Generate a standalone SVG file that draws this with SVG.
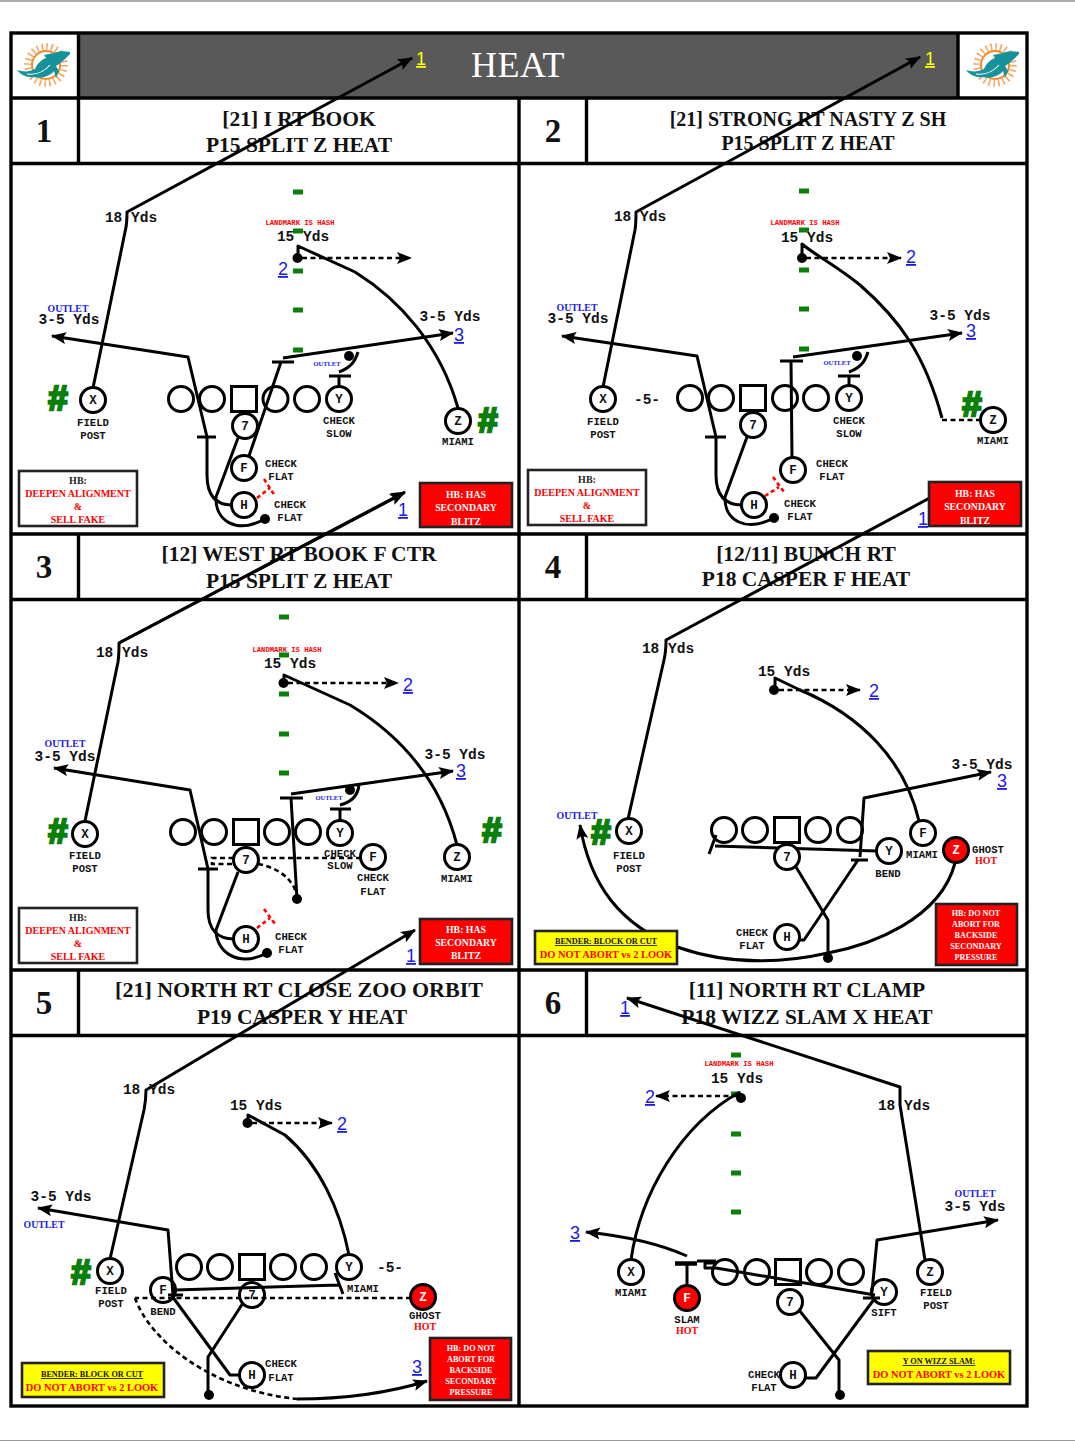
<svg xmlns="http://www.w3.org/2000/svg" width="1075" height="1441" viewBox="0 0 1075 1441">
<style>
text{text-anchor:middle}
.title{font:700 21.5px "Liberation Serif",serif;fill:#111}
.ts{font:700 20px "Liberation Serif",serif;fill:#111}
.tl{font:700 22px "Liberation Serif",serif;fill:#111}
.num{font:700 33px "Liberation Serif",serif;fill:#111}
.yds{font:700 14.5px "Liberation Mono",monospace;fill:#111}
.lab{font:700 10.6px "Liberation Mono",monospace;fill:#111}
.ltr{font:700 12.5px "Liberation Mono",monospace;fill:#111}
.ltw{font:700 12.5px "Liberation Mono",monospace;fill:#fff}
.lm{font:700 7.2px "Liberation Mono",monospace;fill:#f00}
.out{font:700 9.8px "Liberation Serif",serif;fill:#1a1ae6}
.outs{font:700 6.5px "Liberation Serif",serif;fill:#1a1ae6}
.hot{font:700 10px "Liberation Serif",serif;fill:#f00}
.bk{font:700 10px "Liberation Serif",serif;fill:#222}
.rd{font:700 10px "Liberation Serif",serif;fill:#f00}
.ry{font:700 10.4px "Liberation Serif",serif;fill:#f00}
.wh{font:700 9.8px "Liberation Serif",serif;fill:#fff}
.ws{font:700 8.2px "Liberation Serif",serif;fill:#fff}
.ul{font:700 8.2px "Liberation Serif",serif;fill:#111;text-decoration:underline}
.lnk{font:400 18px "Liberation Sans",sans-serif;fill:#1a1ae6;text-decoration:underline}
.lnky{font:400 18px "Liberation Sans",sans-serif;fill:#ff0;text-decoration:underline}
.hash{font:700 35px "Liberation Sans",sans-serif;fill:#0a800a;stroke:#0a800a;stroke-width:2.4}
.five{font:700 14.5px "Liberation Mono",monospace;fill:#111}
.pl{fill:#fff;stroke:#000;stroke-width:3}
.ol{fill:none;stroke:#000;stroke-width:3}
.hot-pl{fill:#f00;stroke:#000;stroke-width:3}
.open{fill:none;stroke:#000;stroke-width:3}
.r{fill:none;stroke:#000;stroke-width:3;stroke-linejoin:round}
.a{marker-end:url(#arr)}
.d{fill:none;stroke:#000;stroke-width:2.6;stroke-dasharray:5 3.5}
.rx{fill:none;stroke:#f00;stroke-width:2.6;stroke-dasharray:4 3}
.dot{fill:#000}
.mk{fill:#0a800a}
.grid{fill:none;stroke:#000;stroke-width:3.4}
.bw{fill:#fff;stroke:#222;stroke-width:2.6}
.br{fill:#f00;stroke:#222;stroke-width:2.6}
.by{fill:#ff0;stroke:#222;stroke-width:2.6}
</style>
<defs>
<marker id="arr" viewBox="0 0 15 12" refX="14" refY="6" markerWidth="15" markerHeight="12" markerUnits="userSpaceOnUse" orient="auto"><path d="M0 0L15 6L0 12L3 6Z" fill="#000"/></marker>
<g id="logo">
<circle cx="46" cy="65" r="18" fill="none" stroke="#f6a45c" stroke-width="7.500" stroke-dasharray="1.500 3.200"/>
<circle cx="46" cy="65" r="14" fill="#fff" stroke="#f58a2c" stroke-width="2"/>
<path d="M70 52C64 51 58 51 54 53L44 55L46 58C41 60 37 64 35 69C29 72 23 72 17 70C20 74 26 78 33 77C42 79 50 76 54 71L56 78L59 71L56 66C61 63 66 58 70 54Z" fill="#16929a"/>
<path d="M27 74C36 75 44 72 50 65" fill="none" stroke="#fff" stroke-width="1.100"/>
</g>
</defs>
<rect width="1075" height="1441" fill="#fff"/>
<path d="M0 1H1075" fill="none" stroke="#aeaeae" stroke-width="2"/>
<path d="M0 1440.500H1075" fill="none" stroke="#9a9a9a" stroke-width="1"/>

<g id="frame">
<rect x="79" y="33" width="879" height="65" fill="#595959"/>
<rect class="grid" x="11" y="33" width="1016" height="1373"/>
<path class="grid" d="M11 98H1027M11 163.500H1027M11 534H1027M11 599.500H1027M11 970H1027M11 1035.500H1027M519 98V1406M78.500 33V98M958 33V98M78.500 98V163.500M586.500 98V163.500M78.500 534V599.500M586.500 534V599.500M78.500 970V1035.500M586.500 970V1035.500"/>
<use href="#logo"/>
<use href="#logo" x="949"/>
<text x="518" y="77" style="font:400 36px 'Liberation Serif',serif;fill:#fff;letter-spacing:.5px">HEAT</text>
<text class="num" x="44" y="142">1</text>
<text class="title" x="299" y="126">[21] I RT BOOK</text>
<text class="title" x="299" y="152">P15 SPLIT Z HEAT</text>
<text class="num" x="553" y="142">2</text>
<text class="ts" x="808" y="126">[21] STRONG RT NASTY Z SH</text>
<text class="ts" x="808" y="150">P15 SPLIT Z HEAT</text>
<text class="num" x="44" y="578">3</text>
<text class="title" x="299" y="561">[12] WEST RT BOOK F CTR</text>
<text class="title" x="299" y="588">P15 SPLIT Z HEAT</text>
<text class="num" x="553" y="578">4</text>
<text class="title" x="806" y="561">[12/11] BUNCH RT</text>
<text class="title" x="806" y="586">P18 CASPER F HEAT</text>
<text class="num" x="44" y="1014">5</text>
<text class="tl" x="299" y="997">[21] NORTH RT CLOSE ZOO ORBIT</text>
<text class="title" x="302" y="1024">P19 CASPER Y HEAT</text>
<text class="num" x="553" y="1014">6</text>
<text class="title" x="807" y="997">[11] NORTH RT CLAMP</text>
<text class="title" x="807" y="1024">P18 WIZZ SLAM X HEAT</text>
</g>

<g id="nodes-back">
<g id="p1-ol"><circle class="ol" cx="181" cy="399" r="12.500"/><circle class="ol" cx="212" cy="399" r="12.500"/><rect class="ol" x="231.500" y="386.500" width="25" height="25"/><circle class="ol" cx="275.500" cy="399" r="12.500"/><circle class="ol" cx="307" cy="399" r="12.500"/></g>
<g id="p2-ol"><circle class="ol" cx="690" cy="398" r="12.500"/><circle class="ol" cx="721" cy="398" r="12.500"/><rect class="ol" x="740.500" y="385.500" width="25" height="25"/><circle class="ol" cx="785" cy="398" r="12.500"/><circle class="ol" cx="816" cy="398" r="12.500"/></g>
<g id="p3-ol"><circle class="ol" cx="183" cy="832" r="12.500"/><circle class="ol" cx="214" cy="832" r="12.500"/><rect class="ol" x="233.500" y="819.500" width="25" height="25"/><circle class="ol" cx="277" cy="832" r="12.500"/><circle class="ol" cx="308" cy="832" r="12.500"/></g>
<g id="p4-ol"><circle class="ol" cx="724" cy="830" r="12.500"/><circle class="ol" cx="755" cy="830" r="12.500"/><rect class="ol" x="774.500" y="817.500" width="25" height="25"/><circle class="ol" cx="818" cy="830" r="12.500"/><circle class="ol" cx="850" cy="830" r="12.500"/></g>
<g id="p5-ol"><circle class="ol" cx="189" cy="1267" r="12.500"/><circle class="ol" cx="220" cy="1267" r="12.500"/><rect class="ol" x="239.500" y="1254.500" width="25" height="25"/><circle class="ol" cx="283" cy="1267" r="12.500"/><circle class="ol" cx="314" cy="1267" r="12.500"/></g>
<g id="p6-ol"><circle class="ol" cx="725" cy="1272" r="12.500"/><circle class="ol" cx="757" cy="1272" r="12.500"/><rect class="ol" x="775.500" y="1259.500" width="25" height="25"/><circle class="ol" cx="819" cy="1272" r="12.500"/><circle class="ol" cx="851" cy="1272" r="12.500"/></g>
</g>

<g id="hash-marks">
<path class="mk" d="M293 189.500h10v5h-10zM293 228.500h10v5h-10zM293 268.500h10v5h-10zM293 307.500h10v5h-10zM293 347.500h10v5h-10z"/>
<path class="mk" d="M799 188.500h10v5h-10zM799 227.500h10v5h-10zM799 267.500h10v5h-10zM799 306.500h10v5h-10zM799 346.500h10v5h-10z"/>
<path class="mk" d="M279 614.500h10v5h-10zM279 652.500h10v5h-10zM279 691.500h10v5h-10zM279 731.500h10v5h-10zM279 770.500h10v5h-10z"/>
<path class="mk" d="M731 1052.500h10v5h-10zM731 1091.500h10v5h-10zM731 1131.500h10v5h-10zM731 1170.500h10v5h-10zM731 1209.500h10v5h-10z"/>
</g>

<g id="connectors">
<!-- panel 1 -->
<path class="r a" d="M93 388L125 232Q127 225 127 212L412 58"/>
<path class="r" d="M458 408C440 345 400 300 355 272L298 246V258"/>
<path class="d a" d="M302 258H411"/><circle class="dot" cx="297.500" cy="258" r="5"/>
<path class="r a" d="M232 505C215 505 207 495 207 475V437L188 357L52 336"/>
<path class="r" d="M197 437H216"/>
<path class="r" d="M238 438L216 497C215 520 235 535 265 519"/><circle class="dot" cx="265" cy="519" r="5"/>
<path class="r" d="M249 456L281 362M272 362H294"/>
<path class="r a" d="M283 358L453 333"/>
<path class="r" d="M339 387V376M329 376H351M339 372C350 368 355 362 358 352"/><circle class="dot" cx="349" cy="356" r="5"/>
<path class="rx" d="M257 498L270 488M264 479L275 496"/>
<path class="r a" d="M119 643L404 493"/>
<!-- panel 2 -->
<path class="r a" d="M603 387L635 230Q636 224 636 212L920 57"/>
<path class="d" d="M981 420H941"/>
<path class="r" d="M942 418C925 355 900 320 860 285C835 265 815 255 802 244V258"/>
<path class="d a" d="M806 258H901"/><circle class="dot" cx="802" cy="258" r="5"/>
<path class="r a" d="M742 505C725 505 716 495 716 475V437L697 356L562 336"/>
<path class="r" d="M705 437H726"/>
<path class="r" d="M747 437L725 497C724 520 745 533 774 518"/><circle class="dot" cx="774" cy="518" r="5"/>
<path class="r" d="M792 458L791 361M780 361H803"/>
<path class="r a" d="M793 357L962 333"/>
<path class="r" d="M849 387V376M838 376H860M849 372C860 368 865 362 868 352"/><circle class="dot" cx="857" cy="356" r="5"/>
<path class="rx" d="M765 496L779 487M773 477L784 492"/>
<path class="r a" d="M628 819L664 660Q666 652 666 640L950 487"/>
<!-- panel 3 -->
<path class="r a" d="M85 821L118 662Q119 655 119 643L405 492"/>
<path class="r" d="M457 845C440 780 400 735 350 705L284 675V683"/>
<path class="d a" d="M288 683H398"/><circle class="dot" cx="283.500" cy="683" r="5"/>
<path class="r a" d="M234 939C218 939 208 930 208 910V869L190 790L54 768"/>
<path class="r" d="M198 869H218"/>
<path class="r" d="M238 872L216 930C216 952 238 968 267 953"/><circle class="dot" cx="267" cy="953" r="5"/>
<path class="d" d="M361 858H212V864H234"/>
<path class="d" d="M258 864C280 868 292 880 296 892"/>
<path class="r" d="M297 899L291 798M280 798H303"/><circle class="dot" cx="297" cy="899" r="5"/>
<path class="r a" d="M291 794L453 771"/>
<path class="r" d="M340 821V809M330 809H351M340 805C352 802 358 795 359 785"/><circle class="dot" cx="350" cy="790" r="5"/>
<path class="rx" d="M257 928L270 918M264 909L275 924"/>
<!-- panel 4 -->
<path class="r" d="M919 821C905 760 860 715 800 690L775 678V690"/>
<path class="d a" d="M779 690H860"/><circle class="dot" cx="774" cy="690" r="5"/>
<path class="r a" d="M955 863C940 920 870 945 828 953C770 966 720 962 677 947C620 925 590 885 580 825"/>
<path class="r" d="M799 940H804L858 860M851 860H868"/>
<path class="r a" d="M860 857L864 798L991 772"/>
<path class="r" d="M796 867L828 920V958"/><circle class="dot" cx="828" cy="958" r="5"/>
<path class="r" d="M877 851L715 846M709 854L716 835"/>
<!-- panel 5 -->
<path class="r a" d="M110 1259L144 1110Q146 1100 146 1090L415 930"/>
<path class="r" d="M349 1255C340 1210 320 1165 285 1135L248 1115V1123"/>
<path class="d a" d="M252 1123H332"/><circle class="dot" cx="247.500" cy="1123" r="5"/>
<path class="r a" d="M173 1295L168 1230L38 1208"/>
<path class="r" d="M240 1375H230L172 1296M168 1295H183"/>
<path class="r" d="M339 1285L175 1290M335 1273L343 1294"/>
<path class="r" d="M243 1303L208 1357V1395"/><circle class="dot" cx="209" cy="1395" r="5"/>
<path class="d" d="M411 1298H135"/>
<path class="d" d="M135 1298C150 1340 210 1390 297 1399"/>
<path class="r a" d="M297 1399C340 1399 385 1394 427 1381"/>
<!-- panel 6 -->
<path class="r" d="M631 1260C640 1195 680 1125 740 1092"/>
<path class="d a" d="M737 1096H656"/><circle class="dot" cx="741" cy="1098" r="5"/>
<path class="r a" d="M925 1260L900 1105V1087L627 998"/>
<path class="r a" d="M872 1292L877 1240L998 1220"/>
<path class="r" d="M805 1378H816L875 1298M863 1298H880"/>
<path class="r" d="M875 1295L716 1268H705V1263H715"/>
<path class="r" d="M687 1286V1263"/><path d="M675 1263.500H697" fill="none" stroke="#000" stroke-width="4.500"/><path class="r" d="M697 1261H716"/>
<path class="r a" d="M687 1256C660 1244 625 1236 586 1232"/>
<path class="r" d="M799 1310L839 1360V1395"/><circle class="dot" cx="840" cy="1395" r="5"/>
</g>

<g id="p1-X"><circle class="pl" cx="93" cy="400" r="12.500"/><text class="ltr" x="93" y="404">X</text></g>
<g id="p1-Y"><circle class="pl" cx="339" cy="399" r="12.500"/><text class="ltr" x="339" y="403">Y</text></g>
<g id="p1-7"><circle class="pl" cx="245" cy="426" r="12.500"/><text class="ltr" x="245" y="430">7</text></g>
<g id="p1-F"><circle class="pl" cx="244" cy="468" r="12.500"/><text class="ltr" x="244" y="472">F</text></g>
<g id="p1-H"><circle class="pl" cx="244" cy="505" r="12.500"/><text class="ltr" x="244" y="509">H</text></g>
<g id="p1-Z"><circle class="pl" cx="458" cy="421" r="12.500"/><text class="ltr" x="458" y="425">Z</text></g>

<g id="p2-X"><circle class="pl" cx="603" cy="399" r="12.500"/><text class="ltr" x="603" y="403">X</text></g>
<g id="p2-Y"><circle class="pl" cx="849" cy="398" r="12.500"/><text class="ltr" x="849" y="402">Y</text></g>
<g id="p2-7"><circle class="pl" cx="753" cy="425" r="12.500"/><text class="ltr" x="753" y="429">7</text></g>
<g id="p2-F"><circle class="pl" cx="793" cy="470" r="12.500"/><text class="ltr" x="793" y="474">F</text></g>
<g id="p2-H"><circle class="pl" cx="754" cy="505" r="12.500"/><text class="ltr" x="754" y="509">H</text></g>
<g id="p2-Z"><circle class="pl" cx="993" cy="420" r="12.500"/><text class="ltr" x="993" y="424">Z</text></g>

<g id="p3-X"><circle class="pl" cx="85" cy="834" r="12.500"/><text class="ltr" x="85" y="838">X</text></g>
<g id="p3-Y"><circle class="pl" cx="340" cy="833" r="12.500"/><text class="ltr" x="340" y="837">Y</text></g>
<g id="p3-7"><circle class="pl" cx="246" cy="860" r="12.500"/><text class="ltr" x="246" y="864">7</text></g>
<g id="p3-F"><circle class="pl" cx="373" cy="857" r="12.500"/><text class="ltr" x="373" y="861">F</text></g>
<g id="p3-H"><circle class="pl" cx="246" cy="939" r="12.500"/><text class="ltr" x="246" y="943">H</text></g>
<g id="p3-Z"><circle class="pl" cx="457" cy="857" r="12.500"/><text class="ltr" x="457" y="861">Z</text></g>

<g id="p4-X"><circle class="pl" cx="629" cy="831" r="12.500"/><text class="ltr" x="629" y="835">X</text></g>
<g id="p4-7"><circle class="pl" cx="787" cy="857" r="12.500"/><text class="ltr" x="787" y="861">7</text></g>
<g id="p4-Y"><circle class="pl" cx="889" cy="851" r="12.500"/><text class="ltr" x="889" y="855">Y</text></g>
<g id="p4-F"><circle class="pl" cx="923" cy="833" r="12.500"/><text class="ltr" x="923" y="837">F</text></g>
<g id="p4-Z"><circle class="hot-pl" cx="956" cy="850" r="12.500"/><text class="ltw" x="956" y="854">Z</text></g>
<g id="p4-H"><circle class="pl" cx="787" cy="937" r="12.500"/><text class="ltr" x="787" y="941">H</text></g>

<g id="p5-X"><circle class="pl" cx="110" cy="1271" r="12.500"/><text class="ltr" x="110" y="1275">X</text></g>
<g id="p5-Y"><circle class="pl" cx="349" cy="1267" r="12.500"/><text class="ltr" x="349" y="1271">Y</text></g>
<g id="p5-7"><circle class="open" cx="252" cy="1295" r="12.500"/><text class="ltr" x="252" y="1299">7</text></g>
<g id="p5-F"><circle class="open" cx="163" cy="1290" r="12.500"/><text class="ltr" x="163" y="1294">F</text></g>
<g id="p5-Z"><circle class="hot-pl" cx="423" cy="1297" r="12.500"/><text class="ltw" x="423" y="1301">Z</text></g>
<g id="p5-H"><circle class="pl" cx="252" cy="1375" r="12.500"/><text class="ltr" x="252" y="1379">H</text></g>

<g id="p6-X"><circle class="pl" cx="631" cy="1272" r="12.500"/><text class="ltr" x="631" y="1276">X</text></g>
<g id="p6-F"><circle class="hot-pl" cx="687" cy="1298" r="12.500"/><text class="ltw" x="687" y="1302">F</text></g>
<g id="p6-Z"><circle class="pl" cx="930" cy="1272" r="12.500"/><text class="ltr" x="930" y="1276">Z</text></g>
<g id="p6-Y"><circle class="open" cx="884" cy="1292" r="12.500"/><text class="ltr" x="884" y="1296">Y</text></g>
<g id="p6-7"><circle class="pl" cx="790" cy="1302" r="12.500"/><text class="ltr" x="790" y="1306">7</text></g>
<g id="p6-H"><circle class="pl" cx="793" cy="1375" r="12.500"/><text class="ltr" x="793" y="1379">H</text></g>

<g id="labels">
<!-- panel 1 -->
<text class="lnky" x="421" y="65">1</text>
<text class="yds" x="131" y="222">18 Yds</text>
<text class="lm" x="300" y="225">LANDMARK IS HASH</text>
<text class="yds" x="303" y="241">15 Yds</text>
<text class="lnk" x="283" y="275">2</text>
<text class="out" x="68" y="312">OUTLET</text>
<text class="yds" x="69" y="324">3-5 Yds</text>
<text class="yds" x="450" y="321">3-5 Yds</text>
<text class="lnk" x="459" y="341">3</text>
<text class="outs" x="327" y="366">OUTLET</text>
<text class="hash" x="58" y="410">#</text><text class="hash" x="488" y="432">#</text>
<text class="lab" x="93" y="426">FIELD</text><text class="lab" x="93" y="439">POST</text>
<text class="lab" x="339" y="424">CHECK</text><text class="lab" x="339" y="437">SLOW</text>
<text class="lab" x="458" y="445">MIAMI</text>
<text class="lab" x="281" y="467">CHECK</text><text class="lab" x="281" y="480">FLAT</text>
<text class="lab" x="290" y="508">CHECK</text><text class="lab" x="290" y="521">FLAT</text>
<text class="lnk" x="403" y="516">1</text>
<!-- panel 2 -->
<text class="lnky" x="930" y="65">1</text>
<text class="yds" x="640" y="221">18 Yds</text>
<text class="lm" x="805" y="225">LANDMARK IS HASH</text>
<text class="yds" x="807" y="242">15 Yds</text>
<text class="lnk" x="911" y="263">2</text>
<text class="out" x="577" y="311">OUTLET</text>
<text class="yds" x="578" y="323">3-5 Yds</text>
<text class="yds" x="960" y="320">3-5 Yds</text>
<text class="lnk" x="971" y="337">3</text>
<text class="outs" x="837" y="365">OUTLET</text>
<text class="five" x="647" y="404">-5-</text>
<text class="hash" x="972" y="416">#</text>
<text class="lab" x="603" y="425">FIELD</text><text class="lab" x="603" y="438">POST</text>
<text class="lab" x="849" y="424">CHECK</text><text class="lab" x="849" y="437">SLOW</text>
<text class="lab" x="993" y="444">MIAMI</text>
<text class="lab" x="832" y="467">CHECK</text><text class="lab" x="832" y="480">FLAT</text>
<text class="lab" x="800" y="507">CHECK</text><text class="lab" x="800" y="520">FLAT</text>
<text class="lnk" x="923" y="525">1</text>
<!-- panel 3 -->
<text class="yds" x="122" y="657">18 Yds</text>
<text class="lm" x="287" y="652">LANDMARK IS HASH</text>
<text class="yds" x="290" y="668">15 Yds</text>
<text class="lnk" x="408" y="691">2</text>
<text class="out" x="65" y="747">OUTLET</text>
<text class="yds" x="65" y="761">3-5 Yds</text>
<text class="yds" x="455" y="759">3-5 Yds</text>
<text class="lnk" x="461" y="777">3</text>
<text class="outs" x="329" y="800">OUTLET</text>
<text class="hash" x="58" y="843">#</text><text class="hash" x="492" y="842">#</text>
<text class="lab" x="85" y="859">FIELD</text><text class="lab" x="85" y="872">POST</text>
<text class="lab" x="340" y="857">CHECK</text><text class="lab" x="340" y="869">SLOW</text>
<text class="lab" x="373" y="881">CHECK</text><text class="lab" x="373" y="895">FLAT</text>
<text class="lab" x="457" y="882">MIAMI</text>
<text class="lab" x="291" y="940">CHECK</text><text class="lab" x="291" y="953">FLAT</text>
<text class="lnk" x="411" y="962">1</text>
<!-- panel 4 -->
<text class="yds" x="668" y="653">18 Yds</text>
<text class="yds" x="784" y="676">15 Yds</text>
<text class="lnk" x="874" y="697">2</text>
<text class="yds" x="982" y="769">3-5 Yds</text>
<text class="lnk" x="1002" y="787">3</text>
<text class="out" x="577" y="819">OUTLET</text>
<text class="hash" x="601" y="844">#</text>
<text class="lab" x="629" y="859">FIELD</text><text class="lab" x="629" y="872">POST</text>
<text class="lab" x="922" y="858">MIAMI</text>
<text class="lab" x="988" y="853">GHOST</text><text class="hot" x="986" y="864">HOT</text>
<text class="lab" x="888" y="877">BEND</text>
<text class="lab" x="752" y="936">CHECK</text><text class="lab" x="752" y="949">FLAT</text>
<!-- panel 5 -->
<text class="yds" x="149" y="1094">18 Yds</text>
<text class="yds" x="256" y="1110">15 Yds</text>
<text class="lnk" x="342" y="1130">2</text>
<text class="yds" x="61" y="1201">3-5 Yds</text>
<text class="out" x="44" y="1228">OUTLET</text>
<text class="hash" x="81" y="1284">#</text>
<text class="lab" x="111" y="1294">FIELD</text><text class="lab" x="111" y="1307">POST</text>
<text class="five" x="390" y="1272">-5-</text>
<text class="lab" x="363" y="1292">MIAMI</text>
<text class="lab" x="163" y="1315">BEND</text>
<text class="lab" x="425" y="1319">GHOST</text><text class="hot" x="425" y="1330">HOT</text>
<text class="lab" x="281" y="1367">CHECK</text><text class="lab" x="281" y="1381">FLAT</text>
<text class="lnk" x="417" y="1373">3</text>
<!-- panel 6 -->
<text class="lnk" x="625" y="1014">1</text>
<text class="lm" x="739" y="1066">LANDMARK IS HASH</text>
<text class="yds" x="737" y="1083">15 Yds</text>
<text class="lnk" x="650" y="1103">2</text>
<text class="yds" x="904" y="1110">18 Yds</text>
<text class="out" x="975" y="1197">OUTLET</text>
<text class="yds" x="975" y="1211">3-5 Yds</text>
<text class="lnk" x="575" y="1239">3</text>
<text class="lab" x="631" y="1296">MIAMI</text>
<text class="lab" x="687" y="1323">SLAM</text><text class="hot" x="687" y="1334">HOT</text>
<text class="lab" x="936" y="1296">FIELD</text><text class="lab" x="936" y="1309">POST</text>
<text class="lab" x="884" y="1316">SIFT</text>
<text class="lab" x="764" y="1378">CHECK</text><text class="lab" x="764" y="1391">FLAT</text>
</g>

<g id="box-p1-hb"><rect class="bw" x="19" y="471" width="118" height="55"/><text class="bk" x="78" y="484">HB:</text><text class="rd" x="78" y="497">DEEPEN ALIGNMENT</text><text class="rd" x="78" y="510">&amp;</text><text class="rd" x="78" y="523">SELL FAKE</text></g>
<g id="box-p1-red"><rect class="br" x="420" y="483" width="92" height="44"/><text class="wh" x="466" y="498">HB: HAS</text><text class="wh" x="466" y="511">SECONDARY</text><text class="wh" x="466" y="525">BLITZ</text></g>
<g id="box-p2-hb"><rect class="bw" x="528" y="470" width="118" height="55"/><text class="bk" x="587" y="483">HB:</text><text class="rd" x="587" y="496">DEEPEN ALIGNMENT</text><text class="rd" x="587" y="509">&amp;</text><text class="rd" x="587" y="522">SELL FAKE</text></g>
<g id="box-p2-red"><rect class="br" x="929" y="482" width="92" height="44"/><text class="wh" x="975" y="497">HB: HAS</text><text class="wh" x="975" y="510">SECONDARY</text><text class="wh" x="975" y="524">BLITZ</text></g>
<g id="box-p3-hb"><rect class="bw" x="19" y="908" width="118" height="55"/><text class="bk" x="78" y="921">HB:</text><text class="rd" x="78" y="934">DEEPEN ALIGNMENT</text><text class="rd" x="78" y="947">&amp;</text><text class="rd" x="78" y="960">SELL FAKE</text></g>
<g id="box-p3-red"><rect class="br" x="420" y="919" width="92" height="45"/><text class="wh" x="466" y="933">HB: HAS</text><text class="wh" x="466" y="946">SECONDARY</text><text class="wh" x="466" y="959">BLITZ</text></g>
<g id="box-p4-yel"><rect class="by" x="535" y="931" width="142" height="33"/><text class="ul" x="606" y="944">BENDER: BLOCK OR CUT</text><text class="ry" x="606" y="958">DO NOT ABORT vs 2 LOOK</text></g>
<g id="box-p4-red"><rect class="br" x="936" y="904" width="81" height="61"/><text class="ws" x="976" y="916">HB: DO NOT</text><text class="ws" x="976" y="927">ABORT FOR</text><text class="ws" x="976" y="938">BACKSIDE</text><text class="ws" x="976" y="949">SECONDARY</text><text class="ws" x="976" y="960">PRESSURE</text></g>
<g id="box-p5-yel"><rect class="by" x="22" y="1363" width="142" height="34"/><text class="ul" x="92" y="1377">BENDER: BLOCK OR CUT</text><text class="ry" x="92" y="1391">DO NOT ABORT vs 2 LOOK</text></g>
<g id="box-p5-red"><rect class="br" x="430" y="1338" width="81" height="62"/><text class="ws" x="471" y="1351">HB: DO NOT</text><text class="ws" x="471" y="1362">ABORT FOR</text><text class="ws" x="471" y="1373">BACKSIDE</text><text class="ws" x="471" y="1384">SECONDARY</text><text class="ws" x="471" y="1395">PRESSURE</text></g>
<g id="box-p6-yel"><rect class="by" x="868" y="1351" width="142" height="33"/><text class="ul" x="939" y="1364">Y ON WIZZ SLAM:</text><text class="ry" x="939" y="1378">DO NOT ABORT vs 2 LOOK</text></g>

</svg>
